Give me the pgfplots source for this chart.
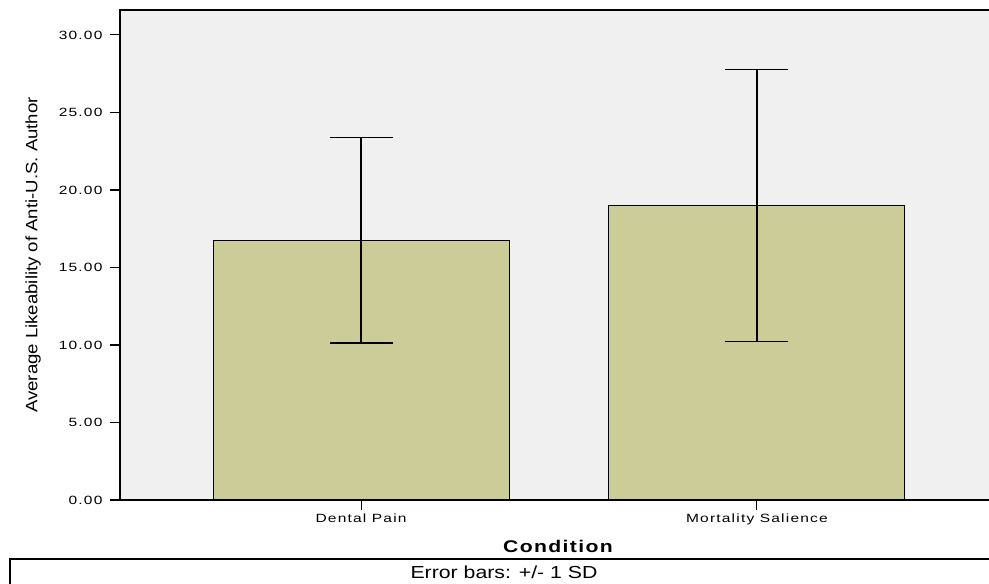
\documentclass[border=0pt]{standalone}
\usepackage{fontspec}
\setmainfont{Liberation Sans}
\usepackage{pgfplots}
\pgfplotsset{compat=1.18}
\newfontfamily\tickfont[FakeStretch=1.3,LetterSpace=10]{Liberation Sans}
\newfontfamily\widefont[FakeStretch=1.22]{Liberation Sans}
\newfontfamily\labfont[FakeStretch=1.13]{Liberation Sans}
\newfontfamily\titlefont[FakeStretch=1.25,LetterSpace=8]{Liberation Sans Bold}
\definecolor{barfill}{RGB}{204,204,153}
\definecolor{plotbg}{RGB}{240,240,240}
\begin{document}
\begin{tikzpicture}[x=1bp,y=1bp]
\useasboundingbox (0,0) rectangle (989,584);
\clip (0,0) rectangle (989,584);
\begin{axis}[
  at={(120bp,84bp)}, anchor=south west,
  scale only axis, width=878bp, height=490bp,
  xmin=0.391, xmax=2.609, ymin=0, ymax=31.61,
  axis background/.style={fill=plotbg},
  axis line style={line width=1.1bp, black},
  tick align=outside, major tick length=10bp,
  tick style={line width=1.1bp, black},
  xtick pos=left, ytick pos=left,
  xtick={1,2}, xticklabels={Dental Pain, Mortality Salience},
  ytick={0,5,10,15,20,25,30},
  /pgf/number format/assume math mode=true,
  yticklabel style={/pgf/number format/fixed, /pgf/number format/fixed zerofill, /pgf/number format/precision=2, xshift=-4bp},
  tick label style={font=\tickfont\fontsize{12}{13}\selectfont},
]
\addplot[ybar, bar width=296bp, fill=barfill, draw=black, line width=1bp,
  error bars/.cd, y dir=both, y explicit,
  error bar style={line width=1.3bp, black},
  error mark options={rotate=90, line width=1.3bp, black, mark size=31.5bp}]
  coordinates {(1,16.75) +- (0,6.63) (2,19.01) +- (0,8.78)};
\end{axis}
\node[font=\labfont\fontsize{16.5}{18}\selectfont, rotate=90] at (33,329) {Average Likeability of Anti-U.S. Author};
\node[font=\titlefont\fontsize{17}{18}\selectfont] at (558,38) {Condition};
\draw[line width=1.1bp] (10,25) rectangle (1000,-10);
\node[font=\widefont\fontsize{17.5}{18}\selectfont] at (504,12) {Error bars: +/- 1 SD};
\end{tikzpicture}
\end{document}
